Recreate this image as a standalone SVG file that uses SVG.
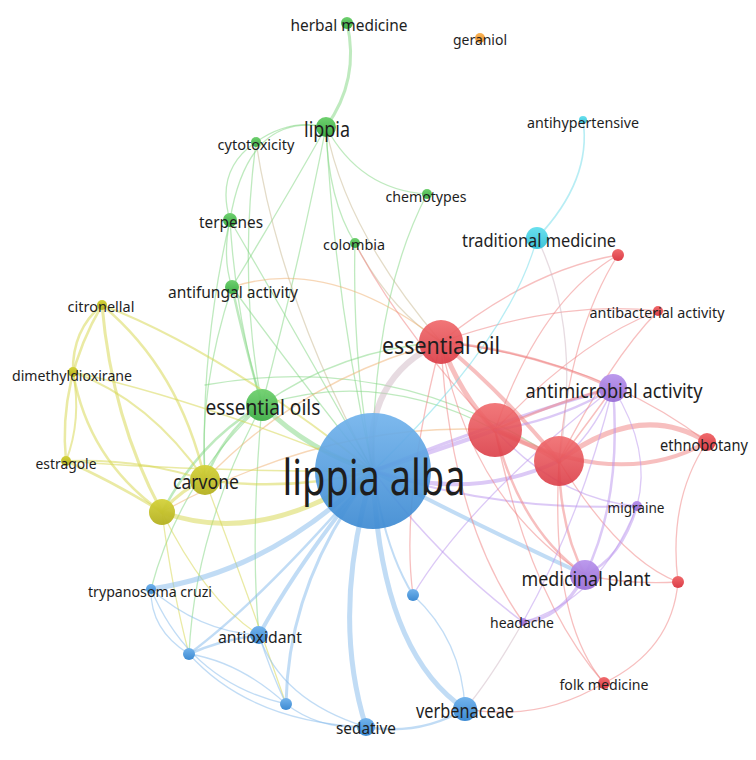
<svg xmlns="http://www.w3.org/2000/svg" width="756" height="760" viewBox="0 0 756 760">
<style>
.e{fill:none;stroke-linecap:round;stroke-opacity:.5}
.g{stroke:#7fd67f}.y{stroke:#d6d64a}.b{stroke:#84b9ec}.r{stroke:#f08080}.p{stroke:#b993ee}.c{stroke:#6fdcea}.o{stroke:#f0b070}.n{stroke:#c8b890}.q{stroke:#d0b8c4}
.t{font-family:"Noto Sans","Open Sans","DejaVu Sans",sans-serif;fill:#1e1e1e;text-anchor:middle}
</style>
<defs>
<linearGradient id="gG" x1="0" y1="0" x2="0" y2="1"><stop offset="0" stop-color="#6fd06f"/><stop offset="1" stop-color="#3fae47"/></linearGradient>
<linearGradient id="gB" x1="0" y1="0" x2="0" y2="1"><stop offset="0" stop-color="#72b3ec"/><stop offset="1" stop-color="#3d8ad2"/></linearGradient>
<linearGradient id="gR" x1="0" y1="0" x2="0" y2="1"><stop offset="0" stop-color="#f06a6c"/><stop offset="1" stop-color="#db3d47"/></linearGradient>
<linearGradient id="gP" x1="0" y1="0" x2="0" y2="1"><stop offset="0" stop-color="#b894ec"/><stop offset="1" stop-color="#9a6fd6"/></linearGradient>
<linearGradient id="gY" x1="0" y1="0" x2="0" y2="1"><stop offset="0" stop-color="#d4d23a"/><stop offset="1" stop-color="#b4b020"/></linearGradient>
<linearGradient id="gC" x1="0" y1="0" x2="0" y2="1"><stop offset="0" stop-color="#6ae0ee"/><stop offset="1" stop-color="#3cc4da"/></linearGradient>
<linearGradient id="gO" x1="0" y1="0" x2="0" y2="1"><stop offset="0" stop-color="#f8b458"/><stop offset="1" stop-color="#ee9430"/></linearGradient>
</defs>
<rect width="756" height="760" fill="#ffffff"/>
<g id="connectors" stroke-width="1.3">
<path class="e g" stroke-width="3" d="M326,127 Q360,80 347,23"/>
<path class="e g" d="M326,127 Q290,118 256,142"/>
<path class="e g" d="M326,127 Q248,112 230,220"/>
<path class="e g" d="M326,127 Q360,190 427,194"/>
<path class="e g" d="M326,127 Q328,200 355,243"/>
<path class="e n" d="M326,127 Q345,230 441,342"/>
<path class="e g" d="M326,127 Q285,200 232,287"/>
<path class="e g" d="M326,127 Q300,260 262,405"/>
<path class="e g" d="M326,127 Q335,300 373,471"/>
<path class="e g" d="M256,142 Q215,170 230,220"/>
<path class="e n" d="M256,142 Q280,300 373,471"/>
<path class="e g" d="M256,142 Q238,280 262,405"/>
<path class="e g" d="M230,220 Q222,258 232,287"/>
<path class="e g" d="M230,220 Q236,320 262,405"/>
<path class="e g" d="M230,220 Q300,340 373,471"/>
<path class="e g" d="M230,220 Q200,350 205,480"/>
<path class="e g" d="M427,194 Q372,300 373,471"/>
<path class="e g" d="M355,243 Q352,360 373,471"/>
<path class="e n" d="M355,243 Q390,310 441,342"/>
<path class="e g" stroke-width="2.5" d="M232,287 Q246,350 262,405"/>
<path class="e g" d="M232,287 Q300,380 373,471"/>
<path class="e o" d="M232,287 Q330,255 441,342"/>
<path class="e g" d="M232,287 Q198,390 205,480"/>
<path class="e g" stroke-width="5" d="M262,405 Q310,452 373,471"/>
<path class="e g" stroke-width="2.5" d="M262,405 Q225,430 205,480"/>
<path class="e g" stroke-width="2.5" d="M262,405 Q200,440 162,512"/>
<path class="e g" d="M262,405 Q340,350 441,342"/>
<path class="e g" d="M262,405 Q380,368 495,430"/>
<path class="e g" d="M205,385 Q400,350 559,461"/>
<path class="e g" d="M262,405 Q180,480 151,589"/>
<path class="e g" d="M262,405 Q195,530 189,654"/>
<path class="e g" d="M262,405 Q250,540 259,635"/>
<path class="e o" d="M205,480 Q300,380 441,342"/>
<path class="e o" d="M162,512 Q330,420 495,430"/>
<path class="e y" stroke-width="2.5" d="M102,305 Q72,330 73,372"/>
<path class="e y" stroke-width="2.5" d="M102,305 Q58,380 66,461"/>
<path class="e y" stroke-width="2.5" d="M102,305 Q180,370 205,480"/>
<path class="e y" stroke-width="3" d="M102,305 Q112,420 162,512"/>
<path class="e y" stroke-width="2" d="M102,305 Q220,350 373,471"/>
<path class="e y" stroke-width="2" d="M73,372 Q82,420 66,461"/>
<path class="e y" stroke-width="2" d="M73,372 Q150,400 205,480"/>
<path class="e y" stroke-width="2.5" d="M73,372 Q88,460 162,512"/>
<path class="e y" stroke-width="1.5" d="M73,372 Q200,400 373,471"/>
<path class="e y" stroke-width="2.5" d="M66,461 Q110,480 162,512"/>
<path class="e y" stroke-width="2" d="M66,461 Q140,458 205,480"/>
<path class="e y" stroke-width="1.5" d="M66,461 Q200,472 373,471"/>
<path class="e y" stroke-width="3.5" d="M205,480 Q180,490 162,512"/>
<path class="e y" stroke-width="2.5" d="M205,480 Q290,492 373,471"/>
<path class="e y" stroke-width="5" d="M162,512 Q260,548 373,471"/>
<path class="e y" d="M162,512 Q172,590 189,654"/>
<path class="e y" d="M162,512 Q205,600 259,635"/>
<path class="e y" d="M205,480 Q250,600 286,704"/>
<path class="e b" stroke-width="5" d="M373,471 Q270,572 151,589"/>
<path class="e b" stroke-width="4" d="M373,471 Q300,560 259,635"/>
<path class="e b" stroke-width="2.5" d="M373,471 Q262,600 189,654"/>
<path class="e b" stroke-width="3" d="M373,471 Q288,580 286,704"/>
<path class="e b" stroke-width="5" d="M373,471 Q330,612 366,727"/>
<path class="e b" stroke-width="5" d="M373,471 Q380,652 465,709"/>
<path class="e b" stroke-width="2" d="M373,471 Q385,550 413,595"/>
<path class="e b" d="M151,589 Q150,630 189,654"/>
<path class="e b" d="M151,589 Q200,632 259,635"/>
<path class="e b" d="M151,589 Q190,682 286,704"/>
<path class="e b" stroke-width="2.5" d="M259,635 Q220,640 189,654"/>
<path class="e b" d="M259,635 Q280,700 366,727"/>
<path class="e b" d="M259,635 Q270,670 286,704"/>
<path class="e b" d="M189,654 Q250,722 366,727"/>
<path class="e b" d="M189,654 Q240,662 286,704"/>
<path class="e b" d="M286,704 Q320,730 366,727"/>
<path class="e b" stroke-width="2.5" d="M366,727 Q420,736 465,709"/>
<path class="e b" d="M413,595 Q462,640 465,709"/>
<path class="e p" d="M413,595 Q470,500 613,388"/>
<path class="e q" stroke-width="6" d="M373,471 Q362,378 441,342"/>
<path class="e p" stroke-width="4" d="M373,471 Q432,452 495,430"/>
<path class="e p" stroke-width="4" d="M373,471 Q470,502 559,461"/>
<path class="e p" stroke-width="3" d="M373,471 Q500,420 613,388"/>
<path class="e b" stroke-width="4" d="M373,471 Q470,522 585,575"/>
<path class="e p" stroke-width="2" d="M373,471 Q500,512 637,506"/>
<path class="e p" stroke-width="1.5" d="M373,471 Q440,560 523,622"/>
<path class="e r" stroke-width="5" d="M441,342 Q460,395 495,430"/>
<path class="e r" stroke-width="4" d="M441,342 Q500,390 559,461"/>
<path class="e r" stroke-width="5" d="M495,430 Q525,440 559,461"/>
<path class="e r" stroke-width="2.5" d="M441,342 Q530,350 613,388"/>
<path class="e r" d="M441,342 Q530,270 618,255"/>
<path class="e r" d="M441,342 Q560,300 658,311"/>
<path class="e r" d="M441,342 Q600,360 707,442"/>
<path class="e r" d="M495,430 Q540,300 618,255"/>
<path class="e r" d="M495,430 Q580,340 658,311"/>
<path class="e r" d="M559,461 Q570,330 618,255"/>
<path class="e r" d="M559,461 Q610,360 658,311"/>
<path class="e r" stroke-width="5" d="M559,461 Q640,400 707,442"/>
<path class="e r" stroke-width="4" d="M495,430 Q620,492 707,442"/>
<path class="e r" stroke-width="2.5" d="M495,430 Q560,400 613,388"/>
<path class="e r" stroke-width="1.5" d="M559,461 Q590,420 613,388"/>
<path class="e r" stroke-width="2.5" d="M495,430 Q520,530 585,575"/>
<path class="e r" stroke-width="2.5" d="M559,461 Q560,530 585,575"/>
<path class="e r" d="M559,461 Q620,560 678,582"/>
<path class="e r" d="M585,575 Q630,585 678,582"/>
<path class="e r" d="M707,442 Q668,500 678,582"/>
<path class="e r" d="M678,582 Q672,650 604,683"/>
<path class="e r" d="M559,461 Q550,620 604,683"/>
<path class="e r" d="M495,430 Q530,600 604,683"/>
<path class="e r" d="M465,709 Q540,722 604,683"/>
<path class="e r" d="M441,342 Q470,500 585,575"/>
<path class="e r" d="M441,342 Q450,520 523,622"/>
<path class="e r" d="M495,430 Q400,330 355,243"/>
<path class="e r" d="M441,342 Q400,500 413,595"/>
<path class="e c" stroke-width="1.6" d="M537,238 Q592,180 583,120"/>
<path class="e c" d="M537,238 Q510,340 373,471"/>
<path class="e q" d="M537,238 Q582,330 559,461"/>
<path class="e p" stroke-width="2.5" d="M613,388 Q560,420 495,430"/>
<path class="e p" stroke-width="1.5" d="M613,388 Q590,440 559,461"/>
<path class="e p" stroke-width="2.5" d="M613,388 Q622,500 585,575"/>
<path class="e p" d="M613,388 Q652,450 637,506"/>
<path class="e p" d="M613,388 Q580,520 523,622"/>
<path class="e p" stroke-width="2.5" d="M585,575 Q622,558 637,506"/>
<path class="e p" stroke-width="3.5" d="M585,575 Q560,620 523,622"/>
<path class="e p" d="M637,506 Q560,500 495,430"/>
<path class="e p" d="M637,506 Q600,600 523,622"/>
<path class="e q" d="M523,622 Q490,680 465,709"/>
</g>
<g id="node-herbal-medicine"><circle cx="347" cy="23" r="6" fill="url(#gG)"/><text class="t" x="349" y="31" font-size="17" textLength="117" lengthAdjust="spacingAndGlyphs">herbal medicine</text></g>
<g id="node-geraniol"><circle cx="480" cy="38" r="5" fill="url(#gO)"/><text class="t" x="480" y="45" font-size="15" textLength="54" lengthAdjust="spacingAndGlyphs">geraniol</text></g>
<g id="node-lippia"><circle cx="326" cy="127" r="10" fill="url(#gG)"/><text class="t" x="327" y="137" font-size="21" textLength="46" lengthAdjust="spacingAndGlyphs">lippia</text></g>
<g id="node-cytotoxicity"><circle cx="256" cy="142" r="5" fill="url(#gG)"/><text class="t" x="256" y="150" font-size="15" textLength="77" lengthAdjust="spacingAndGlyphs">cytotoxicity</text></g>
<g id="node-chemotypes"><circle cx="427" cy="194" r="5" fill="url(#gG)"/><text class="t" x="426" y="202" font-size="15" textLength="81" lengthAdjust="spacingAndGlyphs">chemotypes</text></g>
<g id="node-terpenes"><circle cx="230" cy="220" r="7" fill="url(#gG)"/><text class="t" x="231" y="228" font-size="17" textLength="64" lengthAdjust="spacingAndGlyphs">terpenes</text></g>
<g id="node-colombia"><circle cx="355" cy="243" r="5" fill="url(#gG)"/><text class="t" x="354" y="250" font-size="15" textLength="62" lengthAdjust="spacingAndGlyphs">colombia</text></g>
<g id="node-antihypertensive"><circle cx="583" cy="120" r="4" fill="url(#gC)"/><text class="t" x="583" y="128" font-size="15" textLength="112" lengthAdjust="spacingAndGlyphs">antihypertensive</text></g>
<g id="node-traditional-medicine"><circle cx="537" cy="238" r="11" fill="url(#gC)"/><text class="t" x="539" y="247" font-size="18" textLength="154" lengthAdjust="spacingAndGlyphs">traditional medicine</text></g>
<g id="node-red-a"><circle cx="618" cy="255" r="6" fill="url(#gR)"/></g>
<g id="node-antibacterial-activity"><circle cx="658" cy="311" r="5" fill="url(#gR)"/><text class="t" x="657" y="318" font-size="15" textLength="135" lengthAdjust="spacingAndGlyphs">antibacterial activity</text></g>
<g id="node-antifungal-activity"><circle cx="232" cy="287" r="7" fill="url(#gG)"/><text class="t" x="233" y="298" font-size="16" textLength="130" lengthAdjust="spacingAndGlyphs">antifungal activity</text></g>
<g id="node-citronellal"><circle cx="102" cy="305" r="5" fill="url(#gY)"/><text class="t" x="101" y="312" font-size="15" textLength="67" lengthAdjust="spacingAndGlyphs">citronellal</text></g>
<g id="node-dimethyldioxirane"><circle cx="73" cy="372" r="5" fill="url(#gY)"/><text class="t" x="72" y="381" font-size="15" textLength="120" lengthAdjust="spacingAndGlyphs">dimethyldioxirane</text></g>
<g id="node-estragole"><circle cx="66" cy="461" r="5" fill="url(#gY)"/><text class="t" x="66" y="469" font-size="15" textLength="61" lengthAdjust="spacingAndGlyphs">estragole</text></g>
<g id="node-essential-oils"><circle cx="262" cy="405" r="16" fill="url(#gG)" fill-opacity=".95"/><text class="t" x="263" y="415" font-size="21" textLength="115" lengthAdjust="spacingAndGlyphs">essential oils</text></g>
<g id="node-yellow"><circle cx="162" cy="512" r="13" fill="url(#gY)" fill-opacity=".95"/></g>
<g id="node-carvone"><circle cx="205" cy="480" r="15" fill="url(#gY)" fill-opacity=".95"/><text class="t" x="206" y="489" font-size="19" textLength="66" lengthAdjust="spacingAndGlyphs">carvone</text></g>
<g id="node-lippia-alba"><circle cx="373" cy="471" r="58" fill="url(#gB)" fill-opacity=".92"/><text class="t" x="374" y="495" font-size="50" textLength="183" lengthAdjust="spacingAndGlyphs">lippia alba</text></g>
<g id="node-essential-oil"><circle cx="441" cy="342" r="22" fill="url(#gR)" fill-opacity=".92"/><text class="t" x="441" y="354" font-size="23" textLength="118" lengthAdjust="spacingAndGlyphs">essential oil</text></g>
<g id="node-red-big-1"><circle cx="495" cy="430" r="27" fill="url(#gR)" fill-opacity=".9"/></g>
<g id="node-red-big-2"><circle cx="559" cy="461" r="25" fill="url(#gR)" fill-opacity=".9"/></g>
<g id="node-antimicrobial-activity"><circle cx="613" cy="388" r="14" fill="url(#gP)" fill-opacity=".95"/><text class="t" x="614" y="398" font-size="19" textLength="177" lengthAdjust="spacingAndGlyphs">antimicrobial activity</text></g>
<g id="node-ethnobotany"><circle cx="707" cy="442" r="9" fill="url(#gR)"/><text class="t" x="704" y="451" font-size="16" textLength="88" lengthAdjust="spacingAndGlyphs">ethnobotany</text></g>
<g id="node-migraine"><circle cx="637" cy="506" r="5" fill="url(#gP)"/><text class="t" x="636" y="513" font-size="14" textLength="57" lengthAdjust="spacingAndGlyphs">migraine</text></g>
<g id="node-medicinal-plant"><circle cx="585" cy="575" r="15" fill="url(#gP)" fill-opacity=".95"/><text class="t" x="586" y="586" font-size="19" textLength="129" lengthAdjust="spacingAndGlyphs">medicinal plant</text></g>
<g id="node-red-b"><circle cx="678" cy="582" r="6" fill="url(#gR)"/></g>
<g id="node-headache"><circle cx="523" cy="622" r="4" fill="url(#gP)"/><text class="t" x="522" y="628" font-size="14" textLength="64" lengthAdjust="spacingAndGlyphs">headache</text></g>
<g id="node-folk-medicine"><circle cx="604" cy="683" r="6" fill="url(#gR)"/><text class="t" x="604" y="690" font-size="15" textLength="89" lengthAdjust="spacingAndGlyphs">folk medicine</text></g>
<g id="node-verbenaceae"><circle cx="465" cy="709" r="12" fill="url(#gB)"/><text class="t" x="465" y="718" font-size="19" textLength="98" lengthAdjust="spacingAndGlyphs">verbenaceae</text></g>
<g id="node-blue-a"><circle cx="413" cy="595" r="6" fill="url(#gB)"/></g>
<g id="node-trypanosoma-cruzi"><circle cx="151" cy="589" r="5" fill="url(#gB)"/><text class="t" x="150" y="597" font-size="15" textLength="124" lengthAdjust="spacingAndGlyphs">trypanosoma cruzi</text></g>
<g id="node-antioxidant"><circle cx="259" cy="635" r="9" fill="url(#gB)"/><text class="t" x="260" y="643" font-size="17" textLength="84" lengthAdjust="spacingAndGlyphs">antioxidant</text></g>
<g id="node-blue-b"><circle cx="189" cy="654" r="6" fill="url(#gB)"/></g>
<g id="node-blue-c"><circle cx="286" cy="704" r="6" fill="url(#gB)"/></g>
<g id="node-sedative"><circle cx="366" cy="727" r="9" fill="url(#gB)"/><text class="t" x="366" y="734" font-size="16" textLength="60" lengthAdjust="spacingAndGlyphs">sedative</text></g>
</svg>
